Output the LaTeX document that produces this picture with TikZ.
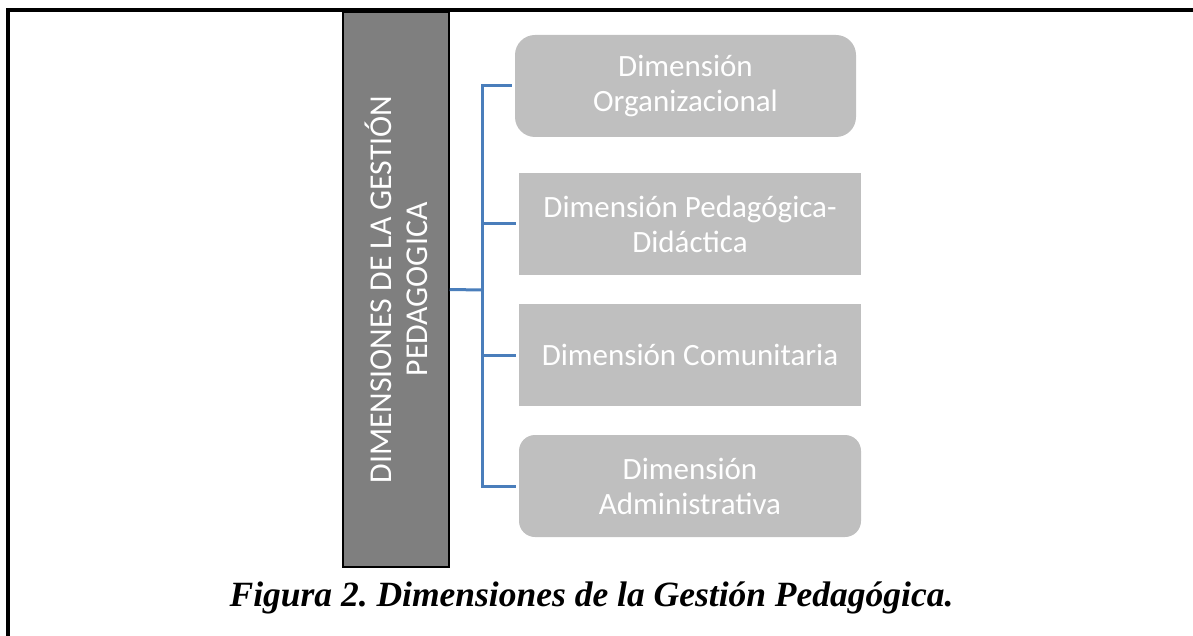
\documentclass[tikz,border=0pt]{standalone}
\usepackage{fontspec}
\setmainfont{Carlito}
\newfontfamily\pieFont{Liberation Serif}
\definecolor{raizgris}{HTML}{7F7F7F}
\definecolor{hojagris}{HTML}{BFBFBF}
\definecolor{lineaazul}{HTML}{4A7EBB}
\frenchspacing

\begin{document}
\begin{tikzpicture}[x=1pt,y=-1pt,
	raiz/.style={draw=black,line width=1.5pt,fill=raizgris,text=white,align=center,
		minimum width=555pt,minimum height=106pt,inner sep=0pt,rotate=90,
		font=\fontsize{31.8}{36}\selectfont},
	hoja/.style={fill=hojagris,text=white,align=center,minimum width=342pt,
		minimum height=102pt,inner sep=0pt,font=\fontsize{31}{35}\selectfont},
	conector/.style={draw=lineaazul,line width=3pt}]
	\useasboundingbox (0,0) rectangle (1193,636);
	% marco
	\draw[line width=3.5pt] (8,636) -- (8,10) -- (1193,10);

	\node[raiz] (dim) at (396,289.5) {DIMENSIONES DE LA GESTIÓN\\PEDAGOGICA};
	\node[hoja,rounded corners=20pt,minimum width=341pt] (org) at (685.5,86) {Dimensión\\Organizacional};
	\node[hoja] (ped) at (690,224) {Dimensión Pedagógica-\\Didáctica};
	\node[hoja] (com) at (690,355) {Dimensión Comunitaria};
	\node[hoja,rounded corners=16pt] (adm) at (690,486) {Dimensión\\Administrativa};

	\coordinate (tronco) at (482,290);
	\draw[conector] (dim.south) -- (tronco);
	\foreach \h in {org,ped,com,adm}
		\draw[conector,shorten >=3pt] (tronco) |- (\h.west);

	\node[font=\pieFont\bfseries\itshape\fontsize{35.5}{40}\selectfont] (titulo) at (591.5,598)
		{Figura 2. Dimensiones de la Gestión Pedagógica.};
\end{tikzpicture}
\end{document}
